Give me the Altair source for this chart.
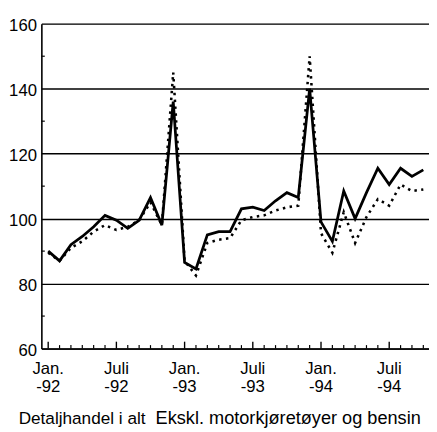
import altair as alt
import pandas as pd

# ---- data ----
months = list(range(34))  # 0 = Jan 1992 ... 33 = Oct 1994
total = [90, 87, 92, 94.5, 97.5, 101, 99.5, 97, 99.5, 106.5, 98, 136,
         86.5, 84.5, 95, 96, 96, 103, 103.5, 102.5, 105.5, 108, 106.5, 140,
         99, 93, 108.5, 100, 108, 115.5, 110.5, 115.5, 113, 115]
excl = [89.5, 87, 91, 93, 96, 98, 96.5, 97.5, 99.5, 105, 98, 145,
        87, 82.5, 92.5, 93.5, 94, 99.5, 100.5, 101, 102.5, 103.5, 104, 150,
        95.5, 89.5, 102, 92.5, 100.5, 106, 104, 110.5, 108.5, 109]
series_names = ["Detaljhandel i alt", "Ekskl. motorkjøretøyer og bensin"]
tick_months = [0, 6, 12, 18, 24, 30]
tick_line1 = ["Jan.", "Juli", "Jan.", "Juli", "Jan.", "Juli"]
tick_line2 = ["-92", "-92", "-93", "-93", "-94", "-94"]
minor_months = [m for m in months if m not in tick_months]
y_grid = [60, 80, 100, 120, 140, 160]
y_minor = [70, 90, 110, 130, 150]

FONT = "Liberation Sans"
W, H = 395, 331

df_total = pd.DataFrame({"m": months, "v": total})
df_excl = pd.DataFrame({"m": months, "v": excl})
df_major = pd.DataFrame({"m": tick_months, "l1": tick_line1, "l2": tick_line2})
df_minor = pd.DataFrame({"m": minor_months})
df_yminor = pd.DataFrame({"v": y_minor})

xs = alt.Scale(domain=[-0.6, 33.5], nice=False, zero=False)
ys = alt.Scale(domain=[60, 160], nice=False, zero=False)
x_axis = alt.Axis(domain=True, domainColor="black", domainWidth=1.6,
                  labels=False, ticks=False, grid=False, title=None)
y_axis = alt.Axis(values=y_grid, grid=True, gridColor="black", gridWidth=1.3,
                  gridOpacity=1, domain=True, domainColor="black", domainWidth=1.6,
                  ticks=False, labelFontSize=17, labelPadding=5, labelColor="black",
                  labelFont=FONT, labelBaseline="middle", labelOffset=2, title=None)

X = alt.X("m:Q", scale=xs, axis=x_axis)
Y = alt.Y("v:Q", scale=ys, axis=y_axis)

dotted = alt.Chart(df_excl).mark_line(color="black", strokeWidth=2.6,
                                      strokeDash=[2.5, 4.5]).encode(x=X, y=Y)
solid = alt.Chart(df_total).mark_line(color="black", strokeWidth=2.8).encode(x=X, y=Y)

major_ticks = alt.Chart(df_major).mark_rule(color="black", strokeWidth=1.4).encode(
    x=X, y=alt.value(H), y2=alt.value(H - 7))
minor_ticks = alt.Chart(df_minor).mark_rule(color="black", strokeWidth=1.2).encode(
    x=X, y=alt.value(H), y2=alt.value(H - 3.5))
y_ticks = alt.Chart(df_yminor).mark_rule(color="black", strokeWidth=1.2).encode(
    y=Y, x=alt.value(0), x2=alt.value(3.5))

lab1 = alt.Chart(df_major).mark_text(font=FONT, fontSize=17, color="black",
                                     baseline="alphabetic", align="center").encode(
    x=X, y=alt.value(357), text="l1:N")
lab2 = alt.Chart(df_major).mark_text(font=FONT, fontSize=17, color="black",
                                     baseline="alphabetic", align="center").encode(
    x=X, y=alt.value(375), text="l2:N")

df_leg = pd.DataFrame({"t": series_names})
leg1 = alt.Chart(df_leg.iloc[[0]]).mark_text(font=FONT, fontSize=17.5, color="black",
                                             baseline="alphabetic", align="center").encode(
    x=alt.value(41.5), y=alt.value(408), text="t:N")
leg2 = alt.Chart(df_leg.iloc[[1]]).mark_text(font=FONT, fontSize=18.5, color="black",
                                             baseline="alphabetic", align="center").encode(
    x=alt.value(251.5), y=alt.value(408), text="t:N")

chart = alt.layer(dotted, solid, major_ticks, minor_ticks, y_ticks,
                  lab1, lab2, leg1, leg2).properties(
    width=W, height=H,
    autosize=alt.AutoSizeParams(type="none"),
    padding={"left": 34, "top": 12, "right": 0, "bottom": 81},
).configure_view(stroke=None).configure(background="white")

chart.save("out.html", embed_options={"renderer": "svg", "actions": False})
